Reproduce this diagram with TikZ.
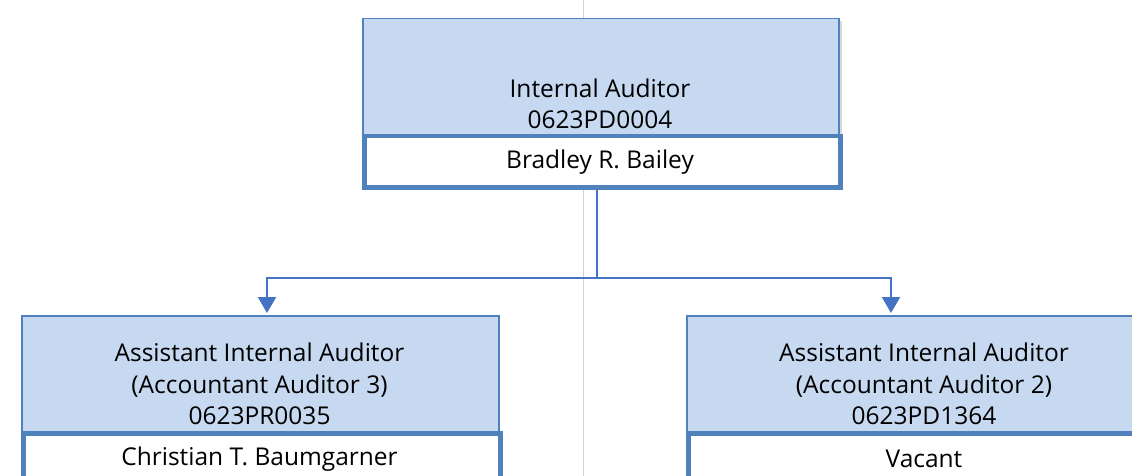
\documentclass[tikz,border=0pt]{standalone}
\usepackage{fontspec}
\setmainfont{Open Sans}
\usetikzlibrary{arrows.meta}
\definecolor{boxblue}{RGB}{198,217,240}
\definecolor{edgeblue}{RGB}{79,129,189}
\definecolor{linkblue}{RGB}{68,114,196}
\definecolor{guide}{RGB}{210,210,210}
\begin{document}
\begin{tikzpicture}[x=1pt,y=-1pt,
  titlebox/.style={draw=edgeblue,line width=1.5pt,fill=boxblue,rectangle,anchor=north west,inner sep=0pt},
  namebox/.style={draw=edgeblue,line width=4.5pt,fill=white,rectangle,anchor=north west,inner sep=0pt},
  lbl/.style={font=\fontsize{24.5}{31.5}\selectfont,align=center,inner sep=0pt},
  conn/.style={draw=linkblue,line width=2.2pt},
  arr/.style={conn,-{Triangle[width=18pt,length=16pt]}}]
\useasboundingbox (0,0) rectangle (1132,476);
\clip (0,0) rectangle (1132,476);
\fill[white] (0,0) rectangle (1132,476);
\draw[guide,line width=1pt] (583,0) -- (583,476);
% top
\fill[black!15] (364,21) rectangle (842,190);
\node[titlebox,minimum width=476pt,minimum height=118pt] (tb) at (362,18) {};
\node[namebox,minimum width=476pt,minimum height=51pt] (tw) at (362,134) {};
\node[lbl] (tt) at (600,104) {Internal Auditor\\0623PD0004};
\node[lbl] (tn) at (600,162) {Bradley R. Bailey};
% left
\node[titlebox,minimum width=477pt,minimum height=118pt] (lb) at (21,315) {};
\node[namebox,minimum width=477pt,minimum height=80pt] (lw) at (21,431) {};
\node[lbl] (lt) at (259.5,384) {Assistant Internal Auditor\\(Accountant Auditor 3)\\0623PR0035};
\node[lbl] (ln) at (259.5,459) {Christian T. Baumgarner};
% right
\node[titlebox,minimum width=480pt,minimum height=118pt] (rb) at (686,315) {};
\node[namebox,minimum width=480pt,minimum height=80pt] (rw) at (686,431) {};
\node[lbl] (rt) at (924,384) {Assistant Internal Auditor\\(Accountant Auditor 2)\\0623PD1364};
\node[lbl] (rn) at (924,459) {Vacant};
% connectors
\coordinate (j) at (597,278);
\coordinate (aL) at (267,313);
\coordinate (aR) at (891,313);
\draw[conn] (j |- tw.south) -- (j);
\draw[arr] (j) -| (aL);
\draw[arr] (j) -| (aR);
\end{tikzpicture}
\end{document}
